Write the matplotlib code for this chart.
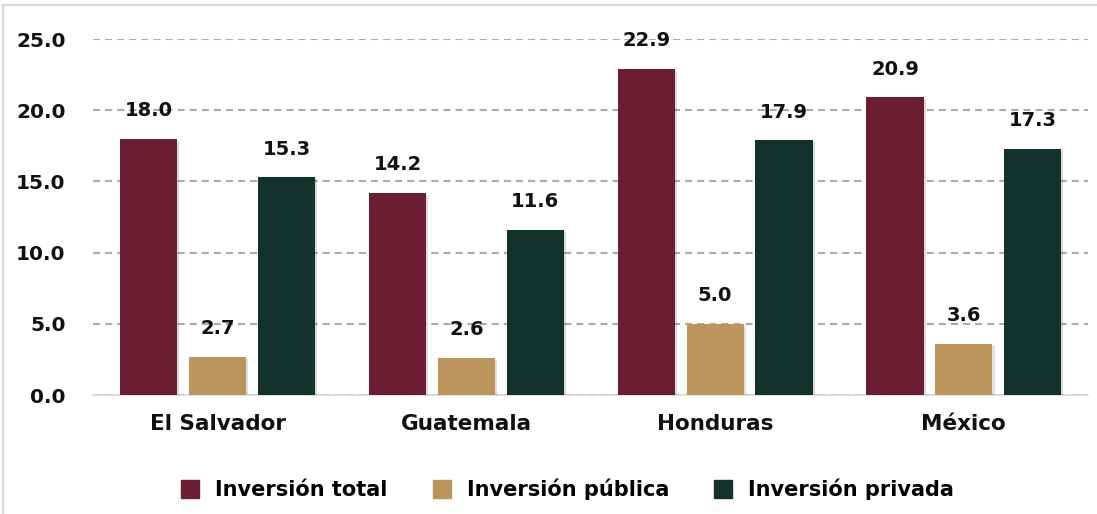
import numpy as np
import matplotlib.pyplot as plt
from matplotlib.patches import Rectangle
from matplotlib.lines import Line2D
import matplotlib.patheffects as pe

countries = ['El Salvador', 'Guatemala', 'Honduras', 'México']
inv_total = [18.0, 14.2, 22.9, 20.9]
inv_publica = [2.7, 2.6, 5.0, 3.6]
inv_privada = [15.3, 11.6, 17.9, 17.3]
series_names = ['Inversión total', 'Inversión pública', 'Inversión privada']
yticks = [0, 5, 10, 15, 20, 25]

colors = ['#6B1D33', '#BC955C', '#13322B']

plt.rcParams['font.family'] = ['DejaVu Sans']

fig = plt.figure(figsize=(10.97, 5.14), dpi=100)
ax = fig.add_axes([0.085, 0.2315, 0.907, 0.6926])

x = np.arange(len(countries))
width = 0.23
offset = 0.277
shadow = [pe.SimplePatchShadow(offset=(1.5, -1.5), alpha=0.15), pe.Normal()]

for k, vals in enumerate([inv_total, inv_publica, inv_privada]):
    pos = x + (k - 1) * offset
    bars = ax.bar(pos, vals, width, color=colors[k], zorder=3)
    for b in bars:
        b.set_path_effects(shadow)
    for px, v in zip(pos, vals):
        ax.text(px, v + 1.3, f'{v:.1f}', ha='center', va='bottom',
                fontsize=14, fontweight='bold', color='#111111', zorder=4)

ax.set_xlim(-0.5, len(countries) - 0.5)
ax.set_ylim(0, 25)
ax.set_yticks(yticks)
ax.set_yticklabels([f'{t:.1f}' for t in yticks], fontsize=14.5, fontweight='bold')
ax.set_xticks(x)
ax.set_xticklabels(countries, fontsize=15.5, fontweight='bold')
ax.tick_params(axis='both', length=0, colors='#111111')
ax.tick_params(axis='y', pad=20)
ax.tick_params(axis='x', pad=14)

ax.yaxis.grid(True, linestyle=(0, (3.4, 2.4)), color='#ABABAB', linewidth=1.5, zorder=0)
for s in ['top', 'right', 'left']:
    ax.spines[s].set_visible(False)
ax.spines['bottom'].set_color('#D9D9D9')
ax.spines['bottom'].set_linewidth(1.2)

handles = [Line2D([], [], marker='s', linestyle='none', markersize=13,
                  markerfacecolor=c, markeredgecolor=c) for c in colors]
fig.legend(handles, series_names, loc='center', bbox_to_anchor=(0.512, 0.048),
           ncol=3, frameon=False, prop={'weight': 'bold', 'size': 15},
           handletextpad=0.2, columnspacing=1.6)

# light frame around the chart
fig.patches.append(Rectangle((0.003, -0.01), 1.2, 1.0, transform=fig.transFigure,
                             fill=False, edgecolor='#D9D9D9', linewidth=1.5))

fig.savefig('out.png', dpi=100)
